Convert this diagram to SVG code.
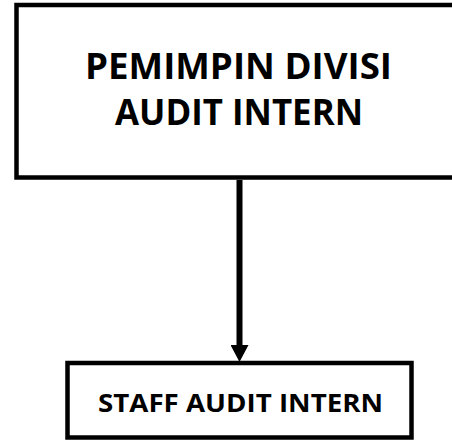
<svg xmlns="http://www.w3.org/2000/svg" width="452" height="440" viewBox="0 0 452 440">
<style>
.box{fill:#fff;stroke:#000;stroke-width:4.5}
.t{font-family:"Open Sans","Liberation Sans",sans-serif;font-weight:bold;fill:#000;text-anchor:middle}
.conn{stroke:#000;stroke-width:6;fill:none}
</style>
<defs>
<marker id="ah" markerUnits="userSpaceOnUse" markerWidth="18" markerHeight="18" refX="0" refY="9" orient="auto" viewBox="0 0 18 18">
<path d="M0,0 L17,9 L0,18 Z" fill="#000"/>
</marker>
</defs>
<rect width="452" height="440" fill="#fff"/>
<g id="node-pemimpin">
<rect class="box" x="16.5" y="5" width="450" height="172.5"/>
<text class="t" x="238.5" y="79" font-size="35" textLength="307" lengthAdjust="spacingAndGlyphs">PEMIMPIN DIVISI</text>
<text class="t" x="239" y="125" font-size="35" textLength="248" lengthAdjust="spacingAndGlyphs">AUDIT INTERN</text>
</g>
<g id="node-staff">
<rect class="box" x="67.5" y="363" width="344" height="74.5"/>
<text class="t" x="240.5" y="412" font-size="25" textLength="285" lengthAdjust="spacingAndGlyphs">STAFF AUDIT INTERN</text>
</g>
<g id="connectors">
<line class="conn" x1="239.5" y1="180" x2="239.5" y2="345" marker-end="url(#ah)"/>
</g>
</svg>
